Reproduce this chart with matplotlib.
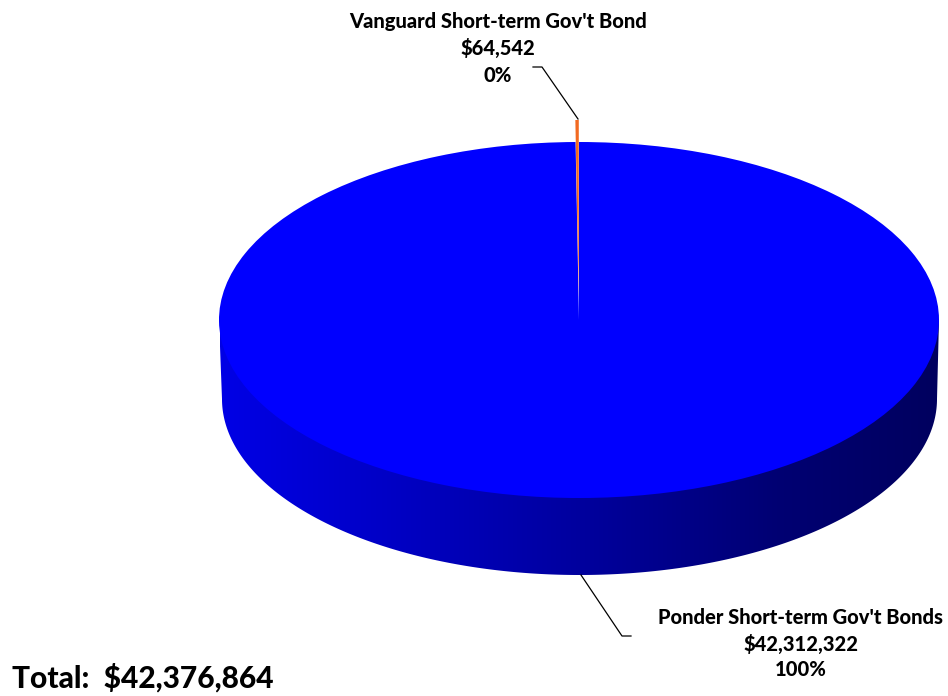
import numpy as np
import matplotlib
matplotlib.use("Agg")
import matplotlib.pyplot as plt
from matplotlib.patches import Polygon

# Data
names = ["Ponder Short-term Gov't Bonds", "Vanguard Short-term Gov't Bond"]
values = [42312322, 64542]
value_labels = ["$42,312,322", "$64,542"]
pct_labels = ["100%", "0%"]
total_label = "Total:  $42,376,864"
slice_colors = ["#0000FF", "#F26A21"]

W, H = 948, 696
CX, CY, A, B = 579.0, 320.0, 360.0, 178.0      # top ellipse, pixels
LOW_CX, LOW_CY, LOW_A, LOW_B = 579.5, 399.0, 357.5, 176.0  # bottom ellipse, pixels
EXPLODE = 22.0 / B

plt.rcParams['font.family'] = ['Lato', 'DejaVu Sans']
fig = plt.figure(figsize=(W / 100, H / 100), dpi=100)
ax = fig.add_axes([0, 0, 1, 1])


def px(x, y):
    """Pixel position in the reference -> pie data coordinates (unit radius)."""
    return (np.asarray(x) - CX) / A, (CY - np.asarray(y)) / B


# Side wall: outline polygon filled by a smooth horizontal shade.
# Its upper edge runs a little inside the top face so no seam shows.
theta = np.linspace(np.pi, 2 * np.pi, 361)
xt, yt = px(np.r_[CX - A, CX + (A - 2) * np.cos(theta), CX + A],
            np.r_[CY, CY - (B - 2) * np.sin(theta), CY])
xb, yb = px(LOW_CX + LOW_A * np.cos(theta[::-1]), LOW_CY - LOW_B * np.sin(theta[::-1]))
outline = np.c_[np.r_[xt, xb], np.r_[yt, yb]]
stops_x = [-1.0, -0.55, 0.0, 0.55, 1.0]
stops_b = [0.90, 0.78, 0.62, 0.45, 0.37]
u = np.linspace(-1, 1, 720)
shade = np.interp(u, stops_x, stops_b)
grad = np.zeros((1, u.size, 3))
grad[0, :, 2] = shade
img_x0, _ = px(LOW_CX - A, 0)
img_x1, _ = px(LOW_CX + A, 0)
_, img_y0 = px(0, 600)
_, img_y1 = px(0, 300)
im = ax.imshow(grad, extent=(img_x0, img_x1, img_y0, img_y1), aspect='auto',
               interpolation='bilinear', zorder=1)
poly = Polygon(outline, closed=True, facecolor='none', edgecolor='none',
               transform=ax.transData)
ax.add_patch(poly)
im.set_clip_path(poly)

# Top face
wedges, _ = ax.pie(values, colors=slice_colors, startangle=90, counterclock=False,
                   explode=[0, EXPLODE], radius=1.0, center=(0, 0),
                   wedgeprops=dict(linewidth=0))
for w in wedges:
    w.set_zorder(2)
ax.set_aspect('auto')
ax.set_xlim(-CX / A, (W - CX) / A)
ax.set_ylim((CY - H) / B, CY / B)
ax.axis('off')

# Leader lines
lx, ly = px([581, 622, 631], [575, 636, 636])
ax.plot(lx, ly, color='black', lw=0.9, zorder=3)
lx, ly = px([578, 542, 533], [119, 67, 67])
ax.plot(lx, ly, color='black', lw=0.9, zorder=3)

# Labels
def label(xp, yp, s, size):
    x, y = px(xp, yp)
    ax.text(x, y, s, ha='center', va='center', fontsize=size, fontweight='black',
            color='black', zorder=4, clip_on=False)

label(498, 21.5, names[1], 14.5)
label(498, 48, value_labels[1], 14.5)
label(498, 75, pct_labels[1], 14.5)
label(801, 618, names[0], 14.5)
label(801, 644, value_labels[0], 14.5)
label(801, 670, pct_labels[0], 14.5)

x, y = px(12, 678)
ax.text(x, y, total_label, ha='left', va='center', fontsize=21.5, fontweight='black',
        color='black', zorder=4)

fig.savefig("out.png", dpi=100, facecolor='white')
